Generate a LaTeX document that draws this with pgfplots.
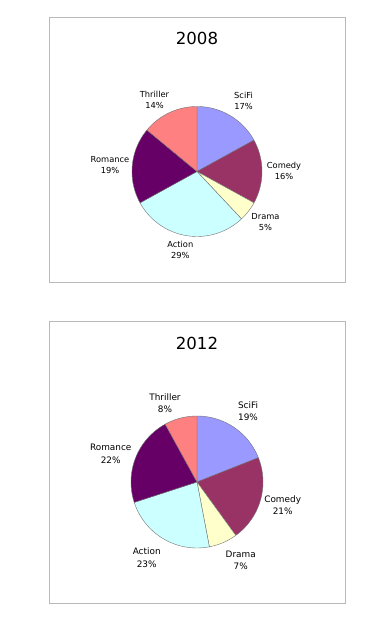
\documentclass[border=0pt]{standalone}
\usepackage{fontspec}
\setmainfont{DejaVu Sans}
\usepackage{pgfplots}
\pgfplotsset{compat=1.18}
\definecolor{cSciFi}{HTML}{9999FF}
\definecolor{cComedy}{HTML}{993366}
\definecolor{cDrama}{HTML}{FFFFCC}
\definecolor{cAction}{HTML}{CCFFFF}
\definecolor{cRomance}{HTML}{660066}
\definecolor{cThriller}{HTML}{FF8080}
\newcommand{\pie}[4]{%
  \gdef\cum{0}%
  \foreach \v/\c in {#4} {%
    \pgfmathsetmacro\a{90-3.6*(\cum+\v)}%
    \pgfmathsetmacro\b{90-3.6*\cum}%
    \edef\tmp{\noexpand\addplot[fill=\c, draw=black!55, line width=0.4pt, domain=\a:\b, samples=60, variable=\noexpand\t] ({#1+#3*cos(\noexpand\t)},{#2+#3*sin(\noexpand\t)}) -- (axis cs:#1,#2) -- cycle;}%
    \tmp
    \pgfmathsetmacro\n{\cum+\v}%
    \xdef\cum{\n}%
  }}
\pgfplotsset{piebox/.style={anchor=south west, scale only axis, width=296pt, xmin=0, xmax=296, ymin=0, ticks=none, axis line style={draw=gray!55, line width=0.8pt}, clip=false}}
\tikzset{lab/.style={align=center, font=\fontsize{8.3}{11}\selectfont, inner sep=0pt}}
\begin{document}
\begin{tikzpicture}
\path (0,0) rectangle (380pt,622pt);
% 2008
\begin{axis}[piebox, at={(49pt,339.5pt)}, height=265pt, ymax=265]
\pie{148}{111}{65}{17/cSciFi,16/cComedy,5/cDrama,29/cAction,19/cRomance,14/cThriller}
\node[font=\fontsize{16.6}{20}\selectfont] at (axis cs:148,244.5) {2008};
\node[lab] at (axis cs:194.5,181.5) {SciFi\\17\%};
\node[lab] at (axis cs:235,111.2) {Comedy\\16\%};
\node[lab] at (axis cs:216.5,60.5) {Drama\\5\%};
\node[lab] at (axis cs:131.3,32.2) {Action\\29\%};
\node[lab] at (axis cs:61,117.2) {Romance\\19\%};
\node[lab] at (axis cs:105.5,183) {Thriller\\14\%};
\end{axis}
% 2012
\begin{axis}[piebox, at={(49pt,18.5pt)}, height=282.5pt, ymax=282.5]
\pie{148}{121.5}{66}{19/cSciFi,21/cComedy,7/cDrama,23/cAction,22/cRomance,8/cThriller}
\node[font=\fontsize{16.6}{20}\selectfont] at (axis cs:148,260.5) {2012};
\node[lab, font=\fontsize{8.9}{12.3}\selectfont] at (axis cs:199,192.5) {SciFi\\19\%};
\node[lab, font=\fontsize{8.9}{12.3}\selectfont] at (axis cs:233.7,98.2) {Comedy\\21\%};
\node[lab, font=\fontsize{8.9}{12.3}\selectfont] at (axis cs:191.7,43.2) {Drama\\7\%};
\node[lab, font=\fontsize{8.9}{12.3}\selectfont] at (axis cs:97.7,45.7) {Action\\23\%};
\node[lab, font=\fontsize{8.9}{12.3}\selectfont] at (axis cs:61.7,149.7) {Romance\\22\%};
\node[lab, font=\fontsize{8.9}{12.3}\selectfont] at (axis cs:116,200.2) {Thriller\\8\%};
\end{axis}
\end{tikzpicture}
\end{document}
